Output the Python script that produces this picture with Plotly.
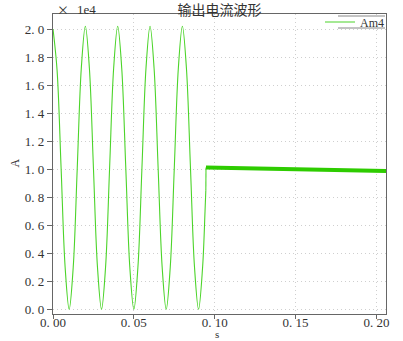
import plotly.graph_objects as go

# ---- data (current in A, time in s) ----
t_wave = [0.0, 0.0025, 0.005, 0.0075, 0.01, 0.0125, 0.015, 0.0175,
          0.02, 0.0225, 0.025, 0.0275, 0.03, 0.0325, 0.035, 0.0375,
          0.04, 0.0425, 0.045, 0.0475, 0.05, 0.0525, 0.055, 0.0575,
          0.06, 0.0625, 0.065, 0.0675, 0.07, 0.0725, 0.075, 0.0775,
          0.08, 0.0825, 0.085, 0.0875, 0.09, 0.0925, 0.094, 0.0945]
i_wave = [20000, 17100, 10100, 3000, 0, 3000, 10100, 17200,
          20200, 17200, 10100, 3000, 0, 3000, 10100, 17200,
          20200, 17200, 10100, 3000, 0, 3000, 10100, 17200,
          20200, 17200, 10100, 3000, 0, 3000, 10100, 17200,
          20200, 17200, 10100, 3000, 0, 3000, 7000, 8500]
t_jump = [0.0945, 0.0946]
i_jump = [8500, 10120]
t_flat = [0.0946, 0.12, 0.15, 0.18, 0.2059]
i_flat = [10120, 10060, 10000, 9940, 9870]

x_ticks = [0.0, 0.05, 0.10, 0.15, 0.20]
x_ticktext = ["0. 00", "0. 05", "0. 10", "0. 15", "0. 20"]
y_ticks = [0, 2000, 4000, 6000, 8000, 10000, 12000, 14000, 16000, 18000, 20000]
y_ticktext = ["0. 0", "0. 2", "0. 4", "0. 6", "0. 8", "1. 0", "1. 2", "1. 4", "1. 6", "1. 8", "2. 0"]

GREEN = "#4cd42a"
SERIF = "Liberation Serif, DejaVu Serif, serif"
CJK = "Noto Sans CJK SC"
TXT = "#333333"
PW, PH = 333, 300  # plot area size in px (for paper-coordinate conversions)

fig = go.Figure()
fig.add_trace(go.Scatter(x=t_wave, y=i_wave, mode="lines", name="Am4",
                         line=dict(color=GREEN, width=1.1, shape="spline", smoothing=1.0)))
fig.add_trace(go.Scatter(x=t_jump, y=i_jump, mode="lines", showlegend=False,
                         line=dict(color=GREEN, width=1.1)))
fig.add_trace(go.Scatter(x=t_flat, y=i_flat, mode="lines", showlegend=False,
                         line=dict(color="#2ecc00", width=4)))

axis_common = dict(showline=True, linecolor="#666666", linewidth=1.2, mirror=True,
                   showgrid=True, gridcolor="#cfcfcf", griddash="1px,3px", gridwidth=1,
                   ticks="outside", tickcolor="#666666", zeroline=False,
                   automargin=False,
                   tickfont=dict(family=SERIF, size=13, color=TXT))

fig.update_xaxes(range=[0, 0.2059], tickvals=x_ticks, ticktext=x_ticktext, ticklen=4,
                 ticklabelstandoff=-8, **axis_common)
fig.update_yaxes(range=[-335, 21070], tickvals=y_ticks, ticktext=y_ticktext, ticklen=5,
                 **axis_common)

# legend frame (top and bottom rules, like the reference)
lx0, lx1 = 1 - 48 / PW, 1 - 1 / PW
ly_top, ly_bot = 1 - 2 / PH, 1 - 14 / PH
fig.add_shape(type="rect", xref="paper", yref="paper", x0=lx0, x1=lx1, y0=ly_bot, y1=ly_top,
              fillcolor="white", line=dict(width=0), layer="above")
fig.add_shape(type="line", xref="paper", yref="paper", x0=lx0, x1=lx1, y0=ly_top, y1=ly_top,
              line=dict(color="#888888", width=1), layer="above")
fig.add_shape(type="line", xref="paper", yref="paper", x0=lx0, x1=lx1, y0=ly_bot, y1=ly_bot,
              line=dict(color="#888888", width=1), layer="above")

fig.update_layout(
    width=403, height=341,
    margin=dict(l=53, r=17, t=14, b=27, autoexpand=False),
    paper_bgcolor="white", plot_bgcolor="white",
    title=dict(text="输出电流波形", x=0.5, xref="paper", xanchor="center",
               y=1 - 10 / 341, yanchor="middle",
               font=dict(family=CJK, size=14, color=TXT)),
    legend=dict(x=1 + 3 / PW, xanchor="right", y=1 - 8 / PH, yanchor="middle",
                bgcolor="rgba(0,0,0,0)", borderwidth=0, itemwidth=30,
                font=dict(family=SERIF, size=12, color=TXT),
                tracegroupgap=0),
    annotations=[
        dict(text="×", x=2 / PW, y=1 + 5 / PH, xref="paper", yref="paper", xanchor="left",
             yanchor="middle", showarrow=False, font=dict(family=CJK, size=12, color=TXT)),
        dict(text="1e4", x=22 / PW, y=1 + 5 / PH, xref="paper", yref="paper", xanchor="left",
             yanchor="middle", showarrow=False, font=dict(family=SERIF, size=13, color=TXT)),
        dict(text="A", x=-0.14, y=0.503, xref="paper", yref="paper", textangle=-90,
             showarrow=False, font=dict(family=SERIF, size=12, color=TXT)),
        dict(text="s", x=0.4925, y=-27 / PH, xref="paper", yref="paper", yanchor="bottom",
             borderpad=0, showarrow=False, font=dict(family=SERIF, size=11, color=TXT)),
    ],
)

fig.write_html("out.html")
